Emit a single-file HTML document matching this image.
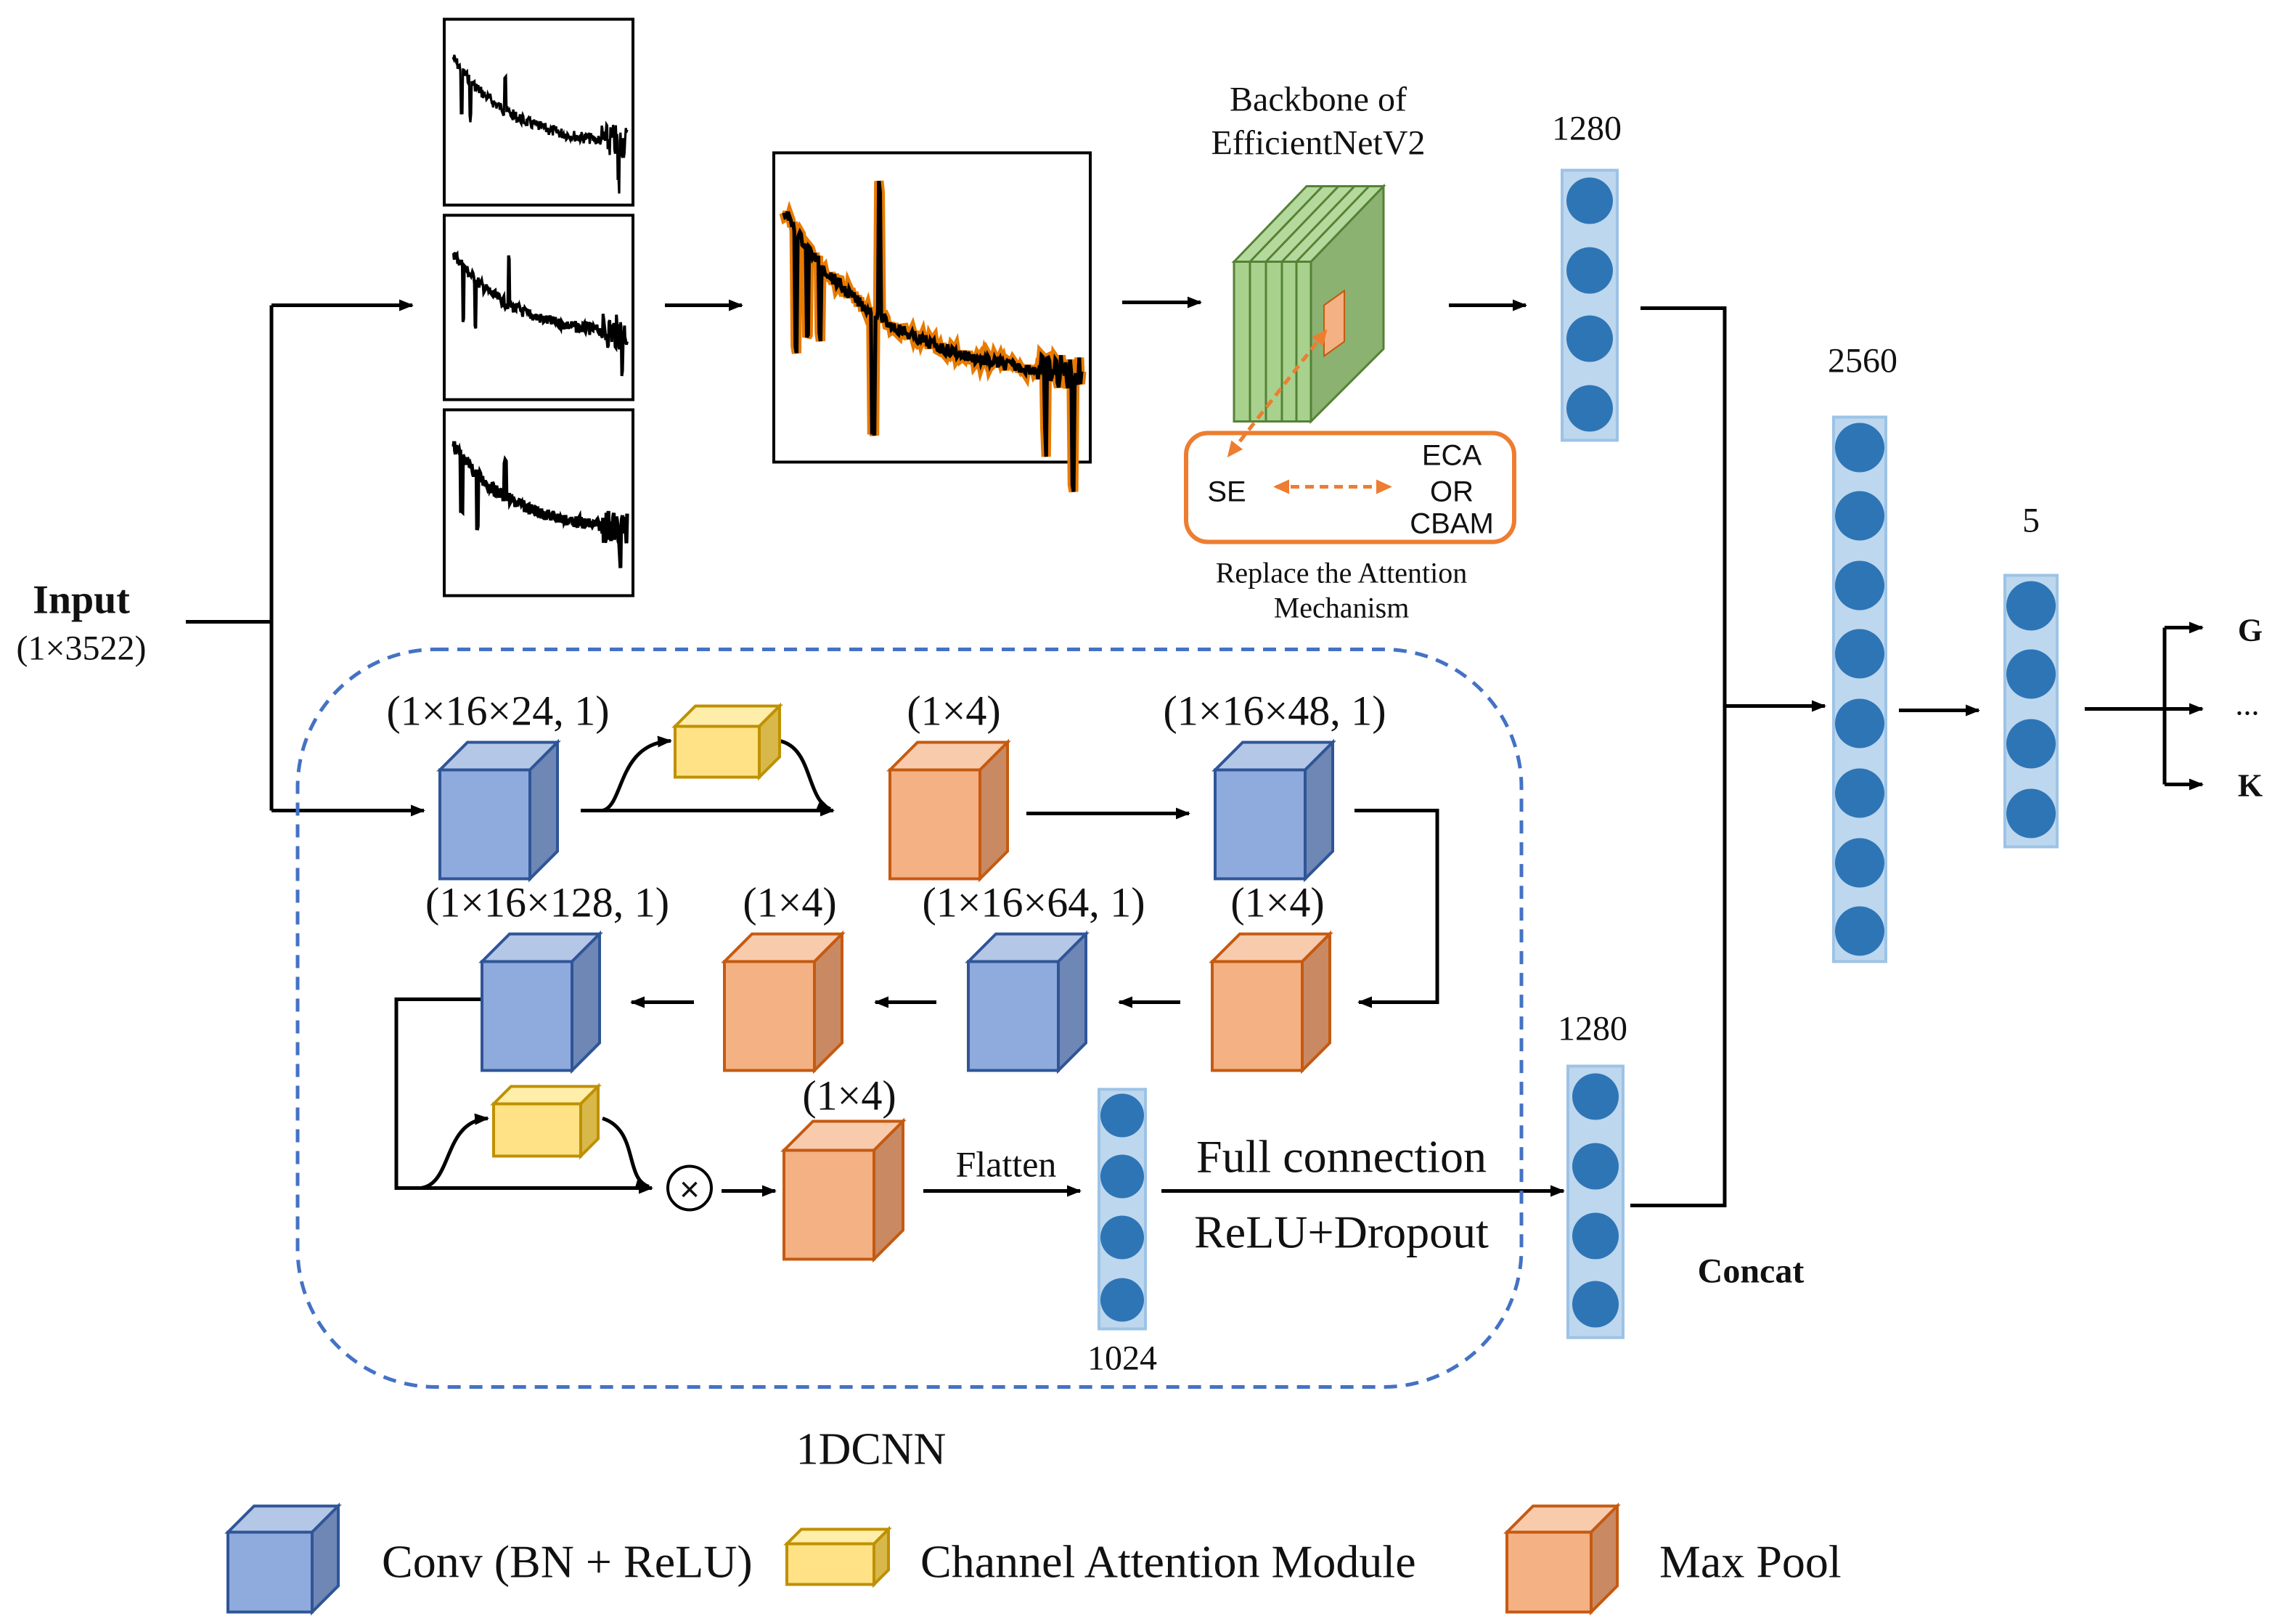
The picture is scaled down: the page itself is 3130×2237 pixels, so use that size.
<!DOCTYPE html>
<html><head><meta charset="utf-8"><style>
html,body{margin:0;padding:0;background:#fff;}
svg{display:block;}
text{font-family:"Liberation Serif",serif;fill:#111;}
.s{font-family:"Liberation Sans",sans-serif;}
</style></head><body>
<svg id="sv" width="3130" height="2237" viewBox="0 0 1565 1118" xmlns="http://www.w3.org/2000/svg">
<defs>
<marker id="ar" markerWidth="10" markerHeight="10" refX="9" refY="5" orient="auto" markerUnits="userSpaceOnUse"><path d="M0,1 L10,5 L0,9 Z" fill="#000"/></marker>
<marker id="ao" markerWidth="12" markerHeight="12" refX="10" refY="6" orient="auto" markerUnits="userSpaceOnUse"><path d="M0,1 L11,6 L0,11 Z" fill="#ed7d31"/></marker>
<marker id="aos" markerWidth="12" markerHeight="12" refX="2" refY="6" orient="auto" markerUnits="userSpaceOnUse"><path d="M11,1 L0,6 L11,11 Z" fill="#ed7d31"/></marker>
</defs>
<g stroke="#000" stroke-width="2.5" fill="none">
<polyline points="128,428 187,428"/>
<polyline points="187,210 187,558"/>
<line x1="187" y1="210" x2="284" y2="210" marker-end="url(#ar)"/>
<line x1="187" y1="558" x2="292" y2="558" marker-end="url(#ar)"/>
<line x1="458" y1="210" x2="511" y2="210" marker-end="url(#ar)"/>
<line x1="773" y1="208" x2="827" y2="208" marker-end="url(#ar)"/>
<line x1="998" y1="210" x2="1051" y2="210" marker-end="url(#ar)"/>
<polyline points="1130,212 1188,212 1188,830 1123,830"/>
<line x1="1188" y1="486" x2="1257" y2="486" marker-end="url(#ar)"/>
<line x1="1308" y1="489" x2="1363" y2="489" marker-end="url(#ar)"/>
<line x1="1436" y1="488" x2="1517" y2="488" marker-end="url(#ar)"/>
<polyline points="1491,432 1491,540"/>
<line x1="1491" y1="432" x2="1517" y2="432" marker-end="url(#ar)"/>
<line x1="1491" y1="540" x2="1517" y2="540" marker-end="url(#ar)"/>
<line x1="400" y1="558" x2="574" y2="558" marker-end="url(#ar)"/>
<path d="M415,558 C430,555 425,512 462,510" marker-end="url(#ar)"/>
<path d="M537,510 C560,515 555,550 572,557" marker-end="url(#ar)"/>
<line x1="707" y1="560" x2="819" y2="560" marker-end="url(#ar)"/>
<polyline points="933,558 990,558 990,690 936,690" marker-end="url(#ar)"/>
<line x1="813" y1="690" x2="771" y2="690" marker-end="url(#ar)"/>
<line x1="645" y1="690" x2="603" y2="690" marker-end="url(#ar)"/>
<line x1="478" y1="690" x2="435" y2="690" marker-end="url(#ar)"/>
<polyline points="332,688 273,688 273,818 449,818" marker-end="url(#ar)"/>
<path d="M290,818 C312,815 305,772 336,770" marker-end="url(#ar)"/>
<path d="M415,770 C440,778 430,812 447,817" marker-end="url(#ar)"/>
<line x1="497" y1="820" x2="534" y2="820" marker-end="url(#ar)"/>
<line x1="636" y1="820" x2="744" y2="820" marker-end="url(#ar)"/>
<line x1="800" y1="820" x2="1077" y2="820" marker-end="url(#ar)"/>
</g>
<circle cx="475" cy="818" r="15" fill="#fff" stroke="#000" stroke-width="2"/>
<text x="475" y="827" font-size="24" text-anchor="middle" class="s">×</text>
<g fill="#fff" stroke="#000" stroke-width="2">
<rect x="306" y="13" width="130" height="128"/>
<rect x="306" y="148" width="130" height="127"/>
<rect x="306" y="282" width="130" height="128"/>
<rect x="533" y="105" width="218" height="213"/>
</g>
<g id="spec"></g>
<text x="908" y="76" font-size="24" text-anchor="middle">Backbone of</text>
<text x="908" y="106" font-size="24" text-anchor="middle">EfficientNetV2</text>
<g stroke="#548235" stroke-width="1.5">
<polygon points="903,180 953,128 953,240 903,290" fill="#8bb271"/>
<polygon points="850,180 900,128 953,128 903,180" fill="#b5d99c"/>
<rect x="850" y="180" width="53" height="110" fill="#a9d18e"/>
<line x1="861" y1="180" x2="861" y2="290"/><line x1="872" y1="180" x2="872" y2="290"/><line x1="883" y1="180" x2="883" y2="290"/><line x1="893" y1="180" x2="893" y2="290"/>
<line x1="861" y1="180" x2="911" y2="128"/><line x1="872" y1="180" x2="922" y2="128"/><line x1="883" y1="180" x2="933" y2="128"/><line x1="893" y1="180" x2="943" y2="128"/>
</g>
<polygon points="912,210 926,200 926,235 912,245" fill="#f4b183" stroke="#c55a11" stroke-width="1"/>
<line x1="913" y1="228" x2="846" y2="314" stroke="#ed7d31" stroke-width="2.5" stroke-dasharray="6,4" marker-end="url(#ao)" marker-start="url(#aos)"/>
<rect x="817" y="298" width="226" height="75" rx="15" fill="none" stroke="#ed7d31" stroke-width="3"/>
<text x="845" y="345" font-size="20" text-anchor="middle" class="s">SE</text>
<line x1="879" y1="335" x2="958" y2="335" stroke="#ed7d31" stroke-width="2.5" stroke-dasharray="6,4" marker-end="url(#ao)" marker-start="url(#aos)"/>
<text x="1000" y="320" font-size="20" text-anchor="middle" class="s">ECA</text>
<text x="1000" y="345" font-size="20" text-anchor="middle" class="s">OR</text>
<text x="1000" y="367" font-size="20" text-anchor="middle" class="s">CBAM</text>
<text x="924" y="401" font-size="20" text-anchor="middle">Replace the Attention</text>
<text x="924" y="425" font-size="20" text-anchor="middle">Mechanism</text>
<g id="cols"></g>
<text x="1093" y="96" font-size="24" text-anchor="middle">1280</text>
<text x="1283" y="256" font-size="24" text-anchor="middle">2560</text>
<text x="1399" y="366" font-size="24" text-anchor="middle">5</text>
<text x="1097" y="716" font-size="24" text-anchor="middle">1280</text>
<text x="773" y="943" font-size="24" text-anchor="middle">1024</text>
<text x="1550" y="441" font-size="22" font-weight="bold" text-anchor="middle">G</text>
<text x="1548" y="492" font-size="22" text-anchor="middle">...</text>
<text x="1550" y="548" font-size="22" font-weight="bold" text-anchor="middle">K</text>
<text x="1206" y="883" font-size="24" font-weight="bold" text-anchor="middle">Concat</text>
<text x="56" y="422" font-size="28" font-weight="bold" text-anchor="middle">Input</text>
<text x="56" y="454" font-size="24" text-anchor="middle">(1×3522)</text>
<rect x="205" y="447" width="843" height="508" rx="95" fill="none" stroke="#4472c4" stroke-width="2.5" stroke-dasharray="9,6"/>
<text x="600" y="1008" font-size="31" text-anchor="middle">1DCNN</text>
<g id="cubes"></g>
<g font-size="29" text-anchor="middle">
<text x="343" y="499">(1×16×24, 1)</text>
<text x="657" y="499">(1×4)</text>
<text x="878" y="499">(1×16×48, 1)</text>
<text x="377" y="631">(1×16×128, 1)</text>
<text x="544" y="631">(1×4)</text>
<text x="712" y="631">(1×16×64, 1)</text>
<text x="880" y="631">(1×4)</text>
<text x="585" y="764">(1×4)</text>
<text x="693" y="810" font-size="25">Flatten</text>
<text x="924" y="807" font-size="32">Full connection</text>
<text x="924" y="859" font-size="32">ReLU+Dropout</text>
</g>
<g font-size="32">
<text x="263" y="1086">Conv (BN + ReLU)</text>
<text x="634" y="1086">Channel Attention Module</text>
<text x="1143" y="1086">Max Pool</text>
</g>
<script>
var NS="http://www.w3.org/2000/svg";
function el(p,t,a){var e=document.createElementNS(NS,t);for(var k in a)e.setAttribute(k,a[k]);p.appendChild(e);return e;}
var cols=document.getElementById("cols");
function column(x,y1,y2,cx,cys,r){el(cols,"rect",{x:x,y:y1,width:(cx-x)*2,height:y2-y1,fill:"#bdd7ee",stroke:"#9dc3e6","stroke-width":2});cys.forEach(function(c){el(cols,"circle",{cx:cx,cy:c,r:r,fill:"#2e75b6"});});}
column(1076,117,303,1095,[138,186,233,281],16);
column(1263,287,662,1281,[308,355,403,450,498,546,594,641],17);
column(1381,396,583,1399,[417,464,512,560],17);
column(1080,734,921,1099,[755,803,851,898],16);
column(757,750,915,773,[768,810,852,895],15);
var cb=document.getElementById("cubes");
var C={b:["#8faadc","#b4c7e7","#6f87b5","#2f5597"],o:["#f4b183","#f8cbad","#c98a63","#c55a11"],y:["#ffe285","#ffeeaa","#d8b84a","#bf9000"]};
function cube(t,x,y,w,h,d){var c=C[t];
el(cb,"polygon",{points:[x,y,x+d,y-d,x+w+d,y-d,x+w,y].join(" "),fill:c[1],stroke:c[3],"stroke-width":2});
el(cb,"polygon",{points:[x+w,y,x+w+d,y-d,x+w+d,y+h-d,x+w,y+h].join(" "),fill:c[2],stroke:c[3],"stroke-width":2});
el(cb,"rect",{x:x,y:y,width:w,height:h,fill:c[0],stroke:c[3],"stroke-width":2});}
cube("b",303,530,62,75,19);cube("y",465,500,58,35,14);cube("o",613,530,62,75,19);cube("b",837,530,62,75,19);
cube("o",835,662,62,75,19);cube("b",667,662,62,75,19);cube("o",499,662,62,75,19);cube("b",332,662,62,75,19);
cube("y",340,760,60,36,12);cube("o",540,792,62,75,20);
cube("b",157,1055,58,55,18);cube("y",542,1063,60,28,10);cube("o",1038,1055,58,55,18);
var sp=document.getElementById("spec");
var seed=7;function rnd(){seed=(seed*9301+49297)%233280;return seed/233280;}
function spec(x0,x1,yt,yb,col,w,spikes){var pts=[],n=260;for(var i=0;i<=n;i++){var f=i/n;var x=x0+(x1-x0)*f;var base=yt+(yb-yt)*(0.15+0.65*(1-Math.exp(-3*f)));var noise=(rnd()-0.5)*(8+ (f>0.85?16:0));var y=base+noise;
spikes.forEach(function(s){if(Math.abs(f-s[0])<0.004)y+=s[1];});pts.push(x.toFixed(1)+","+y.toFixed(1));}
if(col)el(sp,"polyline",{points:pts.join(" "),fill:"none",stroke:col,"stroke-width":w+4});
el(sp,"polyline",{points:pts.join(" "),fill:"none",stroke:"#000","stroke-width":w});}
spec(312,432,25,120,null,1.6,[[0.05,30],[0.1,25],[0.3,-25],[0.95,30]]);
spec(312,432,160,250,null,2,[[0.06,35],[0.13,30],[0.32,-30],[0.97,25]]);
spec(312,432,292,385,null,2.6,[[0.05,40],[0.14,35],[0.3,-25],[0.96,30]]);
spec(540,745,118,300,"#e87a00",2.6,[[0.04,80],[0.08,60],[0.12,50],[0.32,-90],[0.3,80],[0.88,50],[0.97,70]]);
</script>
</svg>
</body></html>
